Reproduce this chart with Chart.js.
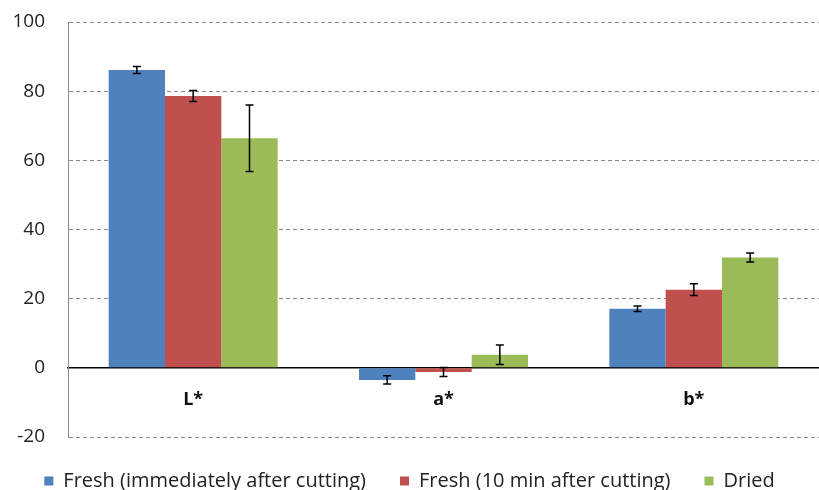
<!DOCTYPE html>
<html>
<head>
<meta charset="utf-8">
<script src="https://cdn.jsdelivr.net/npm/chart.js@4/dist/chart.umd.min.js"></script>
<style>
    html, body { margin: 0; padding: 0; background: #fff; }
    #wrap { width: 819px; height: 490px; }
</style>
</head>
<body>
<div id="wrap"><canvas id="chart"></canvas></div>
<script>
const categories = ['L*', 'a*', 'b*'];
const seriesNames = ['Fresh (immediately after cutting)', 'Fresh (10 min after cutting)', 'Dried'];
const freshNow = [86.1, -3.5, 17.1];
const fresh10 = [78.6, -1.2, 22.6];
const dried = [66.4, 3.8, 31.9];
const freshNowErr = [1.0, 1.2, 0.8];
const fresh10Err = [1.6, 1.3, 1.7];
const driedErr = [9.6, 2.8, 1.3];
const yTicks = [-20, 0, 20, 40, 60, 80, 100];

const colors = ['#4F81BD', '#C0504D', '#9BBB59'];
const errs = [freshNowErr, fresh10Err, driedErr];

const errorBars = {
    id: 'errorBars',
    afterDatasetsDraw(chart) {
        const ctx = chart.ctx;
        const y = chart.scales.y;
        ctx.save();
        ctx.strokeStyle = '#000';
        ctx.lineWidth = 1.5;
        chart.data.datasets.forEach((ds, i) => {
            chart.getDatasetMeta(i).data.forEach((bar, j) => {
                const v = ds.data[j], e = errs[i][j];
                const top = y.getPixelForValue(v + e);
                const bot = y.getPixelForValue(v - e);
                ctx.beginPath();
                ctx.moveTo(bar.x, top); ctx.lineTo(bar.x, bot);
                ctx.moveTo(bar.x - 4, top); ctx.lineTo(bar.x + 4, top);
                ctx.moveTo(bar.x - 4, bot); ctx.lineTo(bar.x + 4, bot);
                ctx.stroke();
            });
        });
        ctx.restore();
    }
};

new Chart(document.getElementById('chart'), {
    type: 'bar',
    data: {
        labels: categories,
        datasets: [freshNow, fresh10, dried].map((d, i) => ({
            label: seriesNames[i],
            data: d,
            backgroundColor: colors[i],
            borderWidth: 0,
            categoryPercentage: 0.675,
            barPercentage: 1
        }))
    },
    options: {
        responsive: true,
        maintainAspectRatio: false,
        animation: false,
        layout: {padding: {top: 22, right: 0, left: 0, bottom: -11}},
        scales: {
            x: {
                position: {y: 0},
                grid: {display: false},
                border: {color: '#000', width: 1.5},
                afterFit: s => { s.paddingTop = 0; s.paddingBottom = 0; },
                ticks: {
                    color: '#111',
                    padding: 13,
                    font: {family: 'Open Sans', size: 18, weight: 'bold'}
                }
            },
            y: {
                min: -20,
                max: 100,
                afterBuildTicks: s => { s.ticks = yTicks.map(v => ({value: v})); },
                afterFit: s => { s.paddingTop = 0; s.width = 68; },
                grid: {color: '#8a8a8a', drawTicks: false},
                border: {color: '#8a8a8a', dash: [4, 3], display: true},
                ticks: {
                    color: '#222',
                    padding: 23,
                    font: {family: 'Open Sans', size: 19}
                }
            }
        },
        plugins: {
            legend: {
                position: 'bottom',
                labels: {
                    boxWidth: 9,
                    boxHeight: 9,
                    padding: 34,
                    color: '#222',
                    font: {family: 'Open Sans', size: 20}
                }
            },
            tooltip: {enabled: false}
        }
    },
    plugins: [errorBars]
});
</script>
</body>
</html>
